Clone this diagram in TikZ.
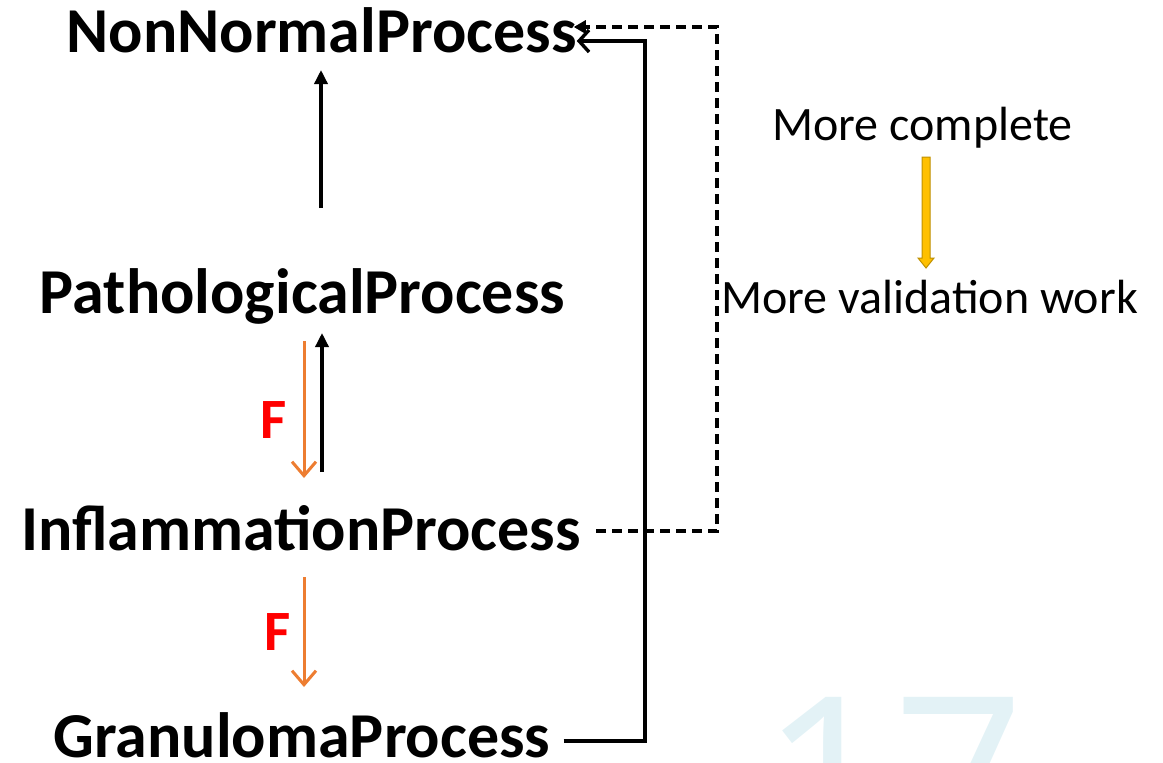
\documentclass[tikz,border=0pt]{standalone}
\usepackage{fontspec}
\setmainfont{Carlito}
\newfontfamily\wmfont{Open Sans}
\usetikzlibrary{arrows.meta,calc}
\definecolor{arrorange}{HTML}{ED7D31}
\definecolor{fred}{HTML}{FF0000}
\definecolor{goldfill}{HTML}{FFC000}
\definecolor{golddraw}{HTML}{BF9000}
\definecolor{wmcyan}{HTML}{E3F2F6}
\tikzset{
  big/.style={inner sep=0pt, font=\fontsize{64}{64}\selectfont\bfseries},
  side/.style={inner sep=0pt, font=\fontsize{48}{48}\selectfont},
  flabel/.style={inner sep=0pt, text=fred, font=\fontsize{57}{57}\selectfont\bfseries},
  uparrow/.style={line width=3.4pt, -{Triangle[length=14pt,width=13pt]}},
  forange/.style={line width=3pt, draw=arrorange, -{Straight Barb[length=14pt,width=24pt,line width=3pt]}},
  fbsolid/.style={line width=3.4pt, -{Straight Barb[length=10pt,width=22pt,line width=3.4pt]}},
  fbdash/.style={line width=3.2pt, dash pattern=on 10pt off 6pt, -{Triangle[length=12pt,width=13pt]}},
}
\begin{document}
\begin{tikzpicture}[x=1pt,y=-1pt]
\useasboundingbox (0,0) rectangle (1163,763);
% watermark slide number
\begin{scope}
\clip (0,0) rectangle (1163,763);
\node[inner sep=0pt, anchor=north, text=wmcyan, font=\fontsize{230}{230}\selectfont\wmfont] (wm) at (893,697) {17};
\end{scope}
% main nodes
\node[big, anchor=base] (N) at (321.5,52) {NonNormalProcess};
\node[big, anchor=base] (P) at (302.5,313) {PathologicalProcess};
\node[big, anchor=base] (I) at (301,550) {InflammationProcess};
\node[big, anchor=base] (G) at (302,757) {GranulomaProcess};
% right-hand legend
\node[side, anchor=base] (mc) at (922.5,140) {More complete};
\node[side, anchor=base] (mv) at (929.5,313) {More validation work};
% column coordinates
\coordinate (cup) at (321,0);
\coordinate (cor) at (304,0);
\coordinate (cup2) at (322,0);
\coordinate (cs) at (645,0);
\coordinate (cd) at (717,0);
% vertical arrows
\draw[uparrow] ($(cup |- P.base)+(0,-105)$) -- ($(cup |- N.base)+(0,18)$);
\draw[forange] ($(cor |- P.base)+(0,28)$) -- ($(cor |- I.base)+(0,-72)$);
\draw[uparrow] ($(cup2 |- I.base)+(0,-78)$) -- ($(cup2 |- P.base)+(0,20)$);
\draw[forange] ($(cor |- I.base)+(0,27)$) -- ($(cor |- G.base)+(0,-70)$);
% F labels
\node[flabel] (F1) at (274,420) {F};
\node[flabel] (F2) at (278,632) {F};
% feedback connectors
\coordinate (gs) at ($(G.base east)+(13,-16)$);
\coordinate (nt) at ($(N.base east)+(0,-11)$);
\draw[fbsolid] (gs) -| (cs |- nt) -- (nt);
\coordinate (is) at ($(I.base east)+(15,-19)$);
\coordinate (nd) at ($(N.base east)+(-3,-25)$);
\draw[fbdash] (is) -| (cd |- nd) -- (nd);
% gold block arrow
\draw[golddraw, fill=goldfill, line width=1pt]
  ($(mc.base)+(-0.5,17)$) coordinate (ga) -- ++(8,0) -- ++(0,101) -- ++(4,0) -- ++(-8,10) -- ++(-8,-10) -- ++(4,0) -- cycle;
\end{tikzpicture}
\end{document}
